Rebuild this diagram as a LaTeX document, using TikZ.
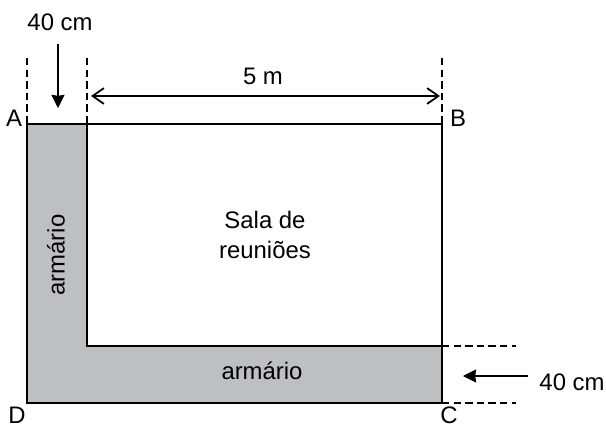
\documentclass[tikz,border=0pt]{standalone}
\usepackage{fontspec}
\setmainfont{Liberation Sans}
\usetikzlibrary{arrows.meta}
\definecolor{armgray}{RGB}{190,191,193}
\tikzset{
    cota/.style={dash pattern=on 4.2pt off 2.4pt,line width=.6pt},
    parede/.style={line width=.85pt},
    seta/.style={line width=.6pt,-{Stealth[length=7.5pt,width=7.5pt,inset=.6pt]}},
    setadupla/.style={line width=.6pt,{Straight Barb[length=6.5pt,width=9pt,line width=1pt]}-{Straight Barb[length=6.5pt,width=9pt,line width=1pt]}},
    rotulo/.style={inner sep=0pt}
}
\begin{document}
\begin{tikzpicture}[x=.02cm,y=-.02cm,font=\fontsize{13.6}{16}\selectfont,line join=miter]
    \useasboundingbox (0,0) rectangle (606,426);
    % cantos da sala
    \coordinate (A) at (27,124);
    \coordinate (B) at (442,124);
    \coordinate (C) at (442,403);
    \coordinate (D) at (27,403);
    \coordinate (E) at (87,124);
    \coordinate (F) at (87,346);
    \coordinate (G) at (442,346);
    % armario
    \fill[armgray] (A)--(E)--(F)--(G)--(C)--(D)--cycle;
    \draw[parede] (A)--(B)--(C)--(D)--cycle;
    \draw[parede] (E)--(F)--(G);
    % linhas de cota
    \coordinate (a1) at (27,58);
    \coordinate (e1) at (87,58);
    \coordinate (b1) at (442,58);
    \coordinate (g1) at (516,346);
    \coordinate (c1) at (516,403);
    \draw[cota] (a1)--(A);
    \draw[cota] (e1)--(E);
    \draw[cota] (b1)--(B);
    \draw[cota] (G)--(g1);
    \draw[cota] (C)--(c1);
    % setas
    \coordinate (s1) at (91,96);
    \coordinate (s2) at (440,96);
    \draw[setadupla] (s1)--(s2);
    \coordinate (s3) at (58,44);
    \coordinate (s4) at (58,108);
    \draw[seta] (s3)--(s4);
    \coordinate (s5) at (528,376);
    \coordinate (s6) at (463,376);
    \draw[seta] (s5)--(s6);
    % textos
    \node[rotulo] (cmA) at (60,22) {40 cm};
    \node[rotulo] (cmB) at (572,382) {40 cm};
    \node[rotulo] (cinco) at (263,76) {5 m};
    \node[rotulo] (la) at (14,118) {A};
    \node[rotulo] (lb) at (458,118) {B};
    \node[rotulo] (lc) at (449,415) {C};
    \node[rotulo] (ld) at (17,415) {D};
    \node[rotulo,align=center] (sala) at (265,235) {Sala de\\[1pt]reuniões};
    \node[rotulo,rotate=90] (arm1) at (56,255) {armário};
    \node[rotulo] (arm2) at (262,371) {armário};
\end{tikzpicture}
\end{document}
